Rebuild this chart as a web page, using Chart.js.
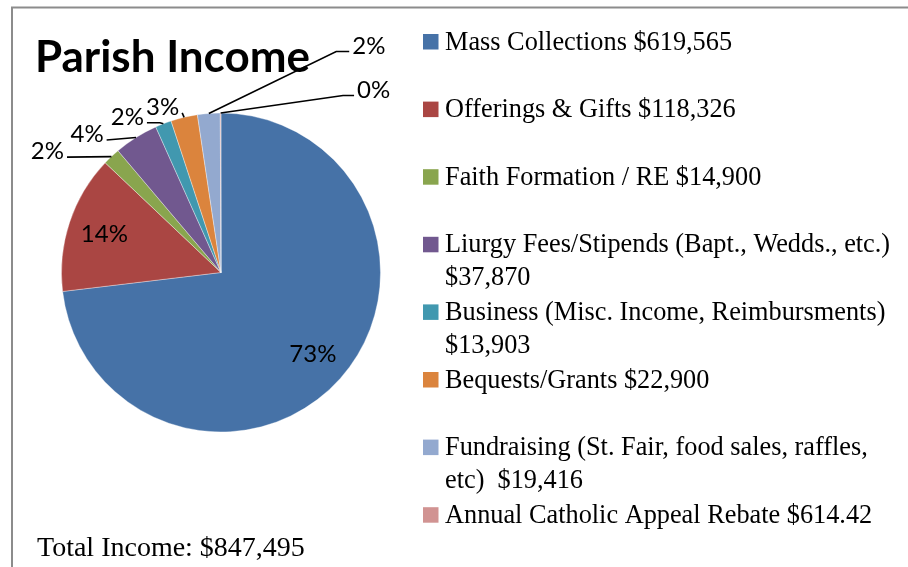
<!DOCTYPE html>
<html><head><meta charset="utf-8">
<script src="https://cdn.jsdelivr.net/npm/chart.js@4.4.1/dist/chart.umd.min.js"></script>
<style>html,body{margin:0;padding:0;background:#fff;overflow:hidden}#wrap{position:relative;width:908px;height:567px}</style>
</head><body><div id="wrap"><canvas id="c" width="908" height="567"></canvas></div>
<script>
const categories = ["Mass Collections","Offerings & Gifts","Faith Formation / RE","Liurgy Fees/Stipends (Bapt., Wedds., etc.)","Business (Misc. Income, Reimbursments)","Bequests/Grants","Fundraising (St. Fair, food sales, raffles, etc)","Annual Catholic Appeal Rebate"];
const values = [619565, 118326, 14900, 37870, 13903, 22900, 19416, 614.42];
const legendLines = [
  ["Mass Collections $619,565"],
  ["Offerings & Gifts $118,326"],
  ["Faith Formation / RE $14,900"],
  ["Liurgy Fees/Stipends (Bapt., Wedds., etc.)", "$37,870"],
  ["Business (Misc. Income, Reimbursments)", "$13,903"],
  ["Bequests/Grants $22,900"],
  ["Fundraising (St. Fair, food sales, raffles,", "etc)  $19,416"],
  ["Annual Catholic Appeal Rebate $614.42"]
];
const colors = ["#4672A7","#AA4643","#89A54E","#71588F","#4198AF","#DB843D","#93A9CF","#D19392"];
const titleText = "Parish Income";
const totalText = "Total Income: $847,495";

// label placement style (per slice): inside labels use radius fraction, outside use offset from arc edge midpoint
const labelStyle = [
  {inside: 0.77}, {inside: 0.77},
  {dx: -64, dy: -5, elbow: 0},
  {dx: -49, dy: -3, elbow: 0},
  {dx: -36, dy: -6.5, elbow: 13},
  {dx: -21.5, dy: -10, elbow: 0},
  {dx: 160, dy: -67.5, elbow: 13},
  {dx: 153, dy: -23, elbow: 11}
];

const decorPlugin = {
  id: 'decor',
  afterDraw(chart) {
    const ctx = chart.ctx;
    const meta = chart.getDatasetMeta(0);
    const total = values.reduce((a, b) => a + b, 0);
    ctx.save();
    // frame
    ctx.strokeStyle = '#8c8c8c';
    ctx.lineWidth = 2;
    ctx.beginPath();
    ctx.moveTo(12, 600); ctx.lineTo(12, 7.5); ctx.lineTo(920, 7.5);
    ctx.stroke();

    // title
    let fs = 40;
    ctx.font = 'bold ' + fs + 'px Lato';
    const w0 = ctx.measureText(titleText).width;
    fs = fs * 275 / w0;
    ctx.font = 'bold ' + fs.toFixed(2) + 'px Lato';
    ctx.fillStyle = '#000';
    ctx.textBaseline = 'alphabetic';
    ctx.textAlign = 'left';
    ctx.fillText(titleText, 35, 72);

    // percent labels
    ctx.font = '24px Lato';
    ctx.textBaseline = 'middle';
    ctx.strokeStyle = '#000';
    ctx.lineWidth = 1.6;
    meta.data.forEach((arc, i) => {
      const pct = Math.round(values[i] / total * 100) + '%';
      const mid = (arc.startAngle + arc.endAngle) / 2;
      const st = labelStyle[i];
      if (st.inside !== undefined) {
        const r = arc.outerRadius * st.inside;
        ctx.textAlign = 'center';
        ctx.fillText(pct, arc.x + Math.cos(mid) * r, arc.y + Math.sin(mid) * r);
        return;
      }
      const ax = arc.x + Math.cos(mid) * arc.outerRadius;
      const ay = arc.y + Math.sin(mid) * arc.outerRadius;
      const tx = ax + st.dx, ty = ay + st.dy;
      const hw = ctx.measureText(pct).width / 2;
      const side = st.dx < 0 ? 1 : -1;
      const cx = tx + side * (hw + 3), cy = ty + 5.5;
      const bx = cx + side * st.elbow;
      ctx.beginPath();
      ctx.moveTo(ax, ay);
      ctx.lineTo(bx, cy);
      ctx.lineTo(cx, cy);
      ctx.stroke();
      ctx.textAlign = 'center';
      ctx.fillText(pct, tx, ty);
    });

    // legend
    ctx.textAlign = 'left';
    ctx.textBaseline = 'alphabetic';
    ctx.font = '26.3px "Liberation Serif"';
    legendLines.forEach((lines, i) => {
      const top = 34 + i * 67.6;
      ctx.fillStyle = colors[i];
      ctx.fillRect(423, top, 15.5, 15.5);
      ctx.fillStyle = '#000';
      lines.forEach((ln, j) => ctx.fillText(ln, 445, top + 15.5 + j * 33));
    });

    // total
    ctx.font = '28px "Liberation Serif"';
    ctx.fillText(totalText, 37, 556);
    ctx.restore();
  }
};

new Chart(document.getElementById('c'), {
  type: 'pie',
  data: {
    labels: categories,
    datasets: [{
      data: values,
      backgroundColor: colors,
      borderColor: 'rgba(255,255,255,0.35)',
      borderWidth: 1
    }]
  },
  options: {
    responsive: false,
    animation: false,
    layout: {padding: {left: 61, top: 112, right: 527, bottom: 134}},
    plugins: {legend: {display: false}, tooltip: {enabled: false}, title: {display: false}}
  },
  plugins: [decorPlugin]
});
</script>
</body></html>
